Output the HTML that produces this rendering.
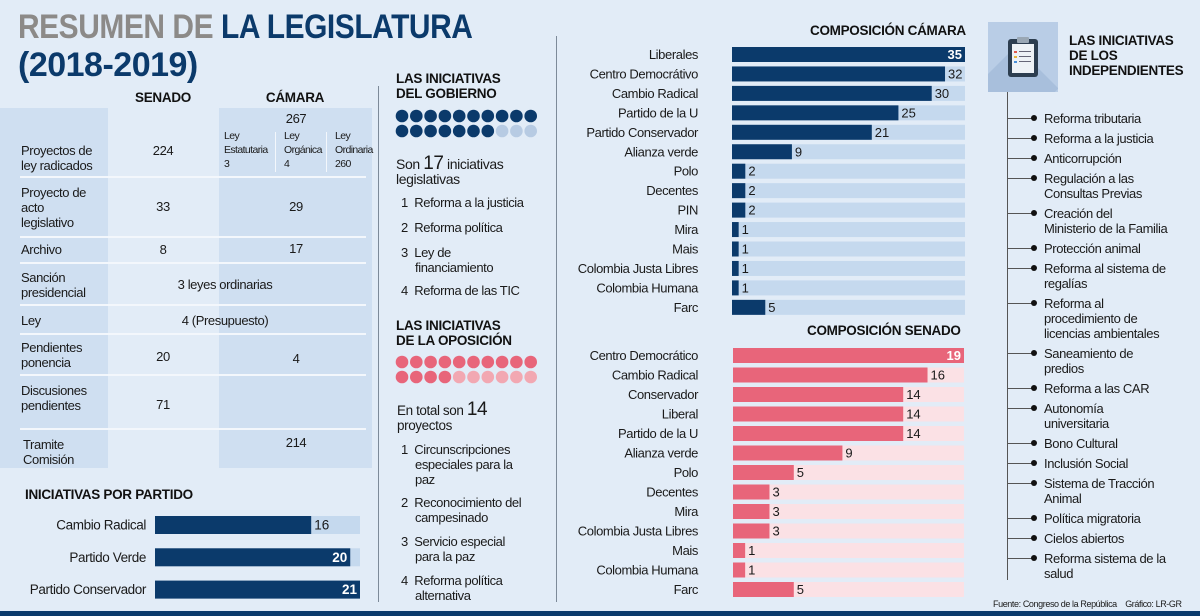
<!DOCTYPE html>
<html><head><meta charset="utf-8"><style>
*{margin:0;padding:0;box-sizing:border-box}
body{width:1200px;height:616px;overflow:hidden;background:#e2ecf7;font-family:"Liberation Sans",sans-serif;color:#1a1a1a;position:relative}
.a{position:absolute;white-space:nowrap}
.t{font-size:13px;letter-spacing:-0.4px;line-height:15px}
.b{font-weight:bold}
.h{font-weight:bold;font-size:13.5px;letter-spacing:-0.3px;line-height:15px;color:#111}
.c{transform:translateX(-50%);text-align:center}
.r{text-align:right}
.sm{font-size:10.5px;line-height:14px;letter-spacing:-0.6px}
.sep{position:absolute;height:2px;background:#f3f7fc;left:20px;width:346px}
.vl{position:absolute;width:1px;background:#7d8a99}
</style></head><body>
<div class="a b" style="left:18px;top:8px;font-size:34px;line-height:38px;letter-spacing:-0.5px"><div style="transform:scaleX(0.88);transform-origin:0 0"><span style="color:#8c8a88">RESUMEN DE</span> <span style="color:#0b3a6b">LA LEGISLATURA</span></div><span style="color:#0b3a6b">(2018-2019)</span></div>

<!-- table backgrounds -->
<div class="a" style="left:0;top:108px;width:108px;height:360px;background:#cfdff1"></div>
<div class="a" style="left:219px;top:108px;width:153px;height:360px;background:#cfdff1"></div>
<div class="a h c" style="left:163px;top:90px">SENADO</div>
<div class="a h c" style="left:295px;top:90px">CÁMARA</div>
<div class="sep" style="top:176px"></div><div class="sep" style="top:236px"></div><div class="sep" style="top:262px"></div><div class="sep" style="top:304px"></div><div class="sep" style="top:333px"></div><div class="sep" style="top:374px"></div><div class="sep" style="top:428px"></div>
<div class="a" style="left:275px;top:132px;width:1px;height:40px;background:#f3f7fc"></div>
<div class="a" style="left:326px;top:132px;width:1px;height:40px;background:#f3f7fc"></div>

<div>
<div class="a t" style="left:21px;top:143px">Proyectos de<br>ley radicados</div>
<div class="a t c" style="left:163px;top:143px">224</div>
<div class="a t c" style="left:296px;top:111px">267</div>
<div class="a sm" style="left:224px;top:129px">Ley<br>Estatutaria<br>3</div>
<div class="a sm" style="left:284px;top:129px">Ley<br>Orgánica<br>4</div>
<div class="a sm" style="left:335px;top:129px">Ley<br>Ordinaria<br>260</div>
<div class="a t" style="left:21px;top:185px">Proyecto de<br>acto<br>legislativo</div>
<div class="a t c" style="left:163px;top:199px">33</div>
<div class="a t c" style="left:296px;top:199px">29</div>
<div class="a t" style="left:21px;top:242px">Archivo</div>
<div class="a t c" style="left:163px;top:242px">8</div>
<div class="a t c" style="left:296px;top:241px">17</div>
<div class="a t" style="left:21px;top:270px">Sanción<br>presidencial</div>
<div class="a t c" style="left:225px;top:277px">3 leyes ordinarias</div>
<div class="a t" style="left:21px;top:313px">Ley</div>
<div class="a t c" style="left:225px;top:313px">4 (Presupuesto)</div>
<div class="a t" style="left:21px;top:340px">Pendientes<br>ponencia</div>
<div class="a t c" style="left:163px;top:349px">20</div>
<div class="a t c" style="left:296px;top:351px">4</div>
<div class="a t" style="left:21px;top:383px">Discusiones<br>pendientes</div>
<div class="a t c" style="left:163px;top:397px">71</div>
<div class="a t" style="left:23px;top:437px">Tramite<br>Comisión</div>
<div class="a t c" style="left:296px;top:435px">214</div>
</div>

<div class="a h" style="left:25px;top:487px">INICIATIVAS POR PARTIDO</div>
<svg id="partido" class="a" style="left:0;top:505px" width="378" height="100"></svg>

<div class="vl" style="left:378px;top:86px;height:516px"></div>
<div class="vl" style="left:556px;top:36px;height:566px"></div>

<!-- gobierno -->
<div class="a h" style="left:396px;top:71px">LAS INICIATIVAS<br>DEL GOBIERNO</div>
<svg id="dots1" class="a" style="left:390px;top:106px" width="160" height="34"></svg>
<div class="a t" style="left:396px;top:156px;font-size:14px"><span>Son </span><span style="font-size:19px">17</span> iniciativas<br>legislativas</div>
<div class="a t" style="left:401px;top:195px">1&nbsp; Reforma a la justicia</div>
<div class="a t" style="left:401px;top:220px">2&nbsp; Reforma política</div>
<div class="a t" style="left:401px;top:245px">3&nbsp; Ley de<br><span style="padding-left:14px">financiamiento</span></div>
<div class="a t" style="left:401px;top:283px">4&nbsp; Reforma de las TIC</div>

<div class="a h" style="left:396px;top:318px">LAS INICIATIVAS<br>DE LA OPOSICIÓN</div>
<svg id="dots2" class="a" style="left:390px;top:352px" width="160" height="34"></svg>
<div class="a t" style="left:397px;top:402px;font-size:13.5px">En total son <span style="font-size:19px">14</span><br>proyectos</div>
<div class="a t" style="left:401px;top:442px">1&nbsp; Circunscripciones<br><span style="padding-left:14px">especiales para la</span><br><span style="padding-left:14px">paz</span></div>
<div class="a t" style="left:401px;top:495px">2&nbsp; Reconocimiento del<br><span style="padding-left:14px">campesinado</span></div>
<div class="a t" style="left:401px;top:534px">3&nbsp; Servicio especial<br><span style="padding-left:14px">para la paz</span></div>
<div class="a t" style="left:401px;top:573px">4&nbsp; Reforma política<br><span style="padding-left:14px">alternativa</span></div>

<!-- composición -->
<div class="a h" style="left:810px;top:23px">COMPOSICIÓN CÁMARA</div>
<svg id="camara" class="a" style="left:556px;top:40px" width="430" height="280"></svg>
<div class="a h" style="left:807px;top:323px">COMPOSICIÓN SENADO</div>
<svg id="senado" class="a" style="left:556px;top:340px" width="430" height="262"></svg>

<!-- independientes -->
<div class="a" style="left:988px;top:22px;width:70px;height:70px;background:#b9cde6;overflow:hidden">
<div style="position:absolute;left:28px;top:24px;width:60px;height:60px;background:#a8bfdc;transform:rotate(45deg);transform-origin:0 0"></div>
<div style="position:absolute;left:20px;top:17px;width:30px;height:38px;background:#2d3e50;border-radius:3px"></div>
<div style="position:absolute;left:24px;top:22px;width:22px;height:29px;background:#eef2f6"></div>
<div style="position:absolute;left:29px;top:15px;width:12px;height:6px;background:#9aa7b4;border-radius:1px"></div>
<div style="position:absolute;left:26px;top:29px;width:3px;height:2px;background:#e05a4e"></div><div style="position:absolute;left:31px;top:29px;width:12px;height:1px;background:#667"></div>
<div style="position:absolute;left:26px;top:34px;width:3px;height:2px;background:#e8b53a"></div><div style="position:absolute;left:31px;top:34px;width:12px;height:1px;background:#667"></div>
<div style="position:absolute;left:26px;top:39px;width:3px;height:2px;background:#4a90d9"></div><div style="position:absolute;left:31px;top:39px;width:12px;height:1px;background:#667"></div>
</div>
<div class="a h" style="left:1069px;top:33px">LAS INICIATIVAS<br>DE LOS<br>INDEPENDIENTES</div>
<div class="vl" style="left:1007px;top:92px;height:488px;background:#555"></div>
<div id="indep"></div>

<div class="a" style="left:993px;top:599px;font-size:9px;letter-spacing:-0.4px">Fuente: Congreso de la República &nbsp;&nbsp; Gráfico: LR-GR</div>
<div class="a" style="left:0;top:611px;width:1200px;height:5px;background:#0b3a6b"></div>

<script>
var NS='http://www.w3.org/2000/svg';
var camaraCats=['Liberales','Centro Democrátivo','Cambio Radical','Partido de la U','Partido Conservador','Alianza verde','Polo','Decentes','PIN','Mira','Mais','Colombia Justa Libres','Colombia Humana','Farc'];
var camaraVals=[35,32,30,25,21,9,2,2,2,1,1,1,1,5];
var senadoCats=['Centro Democrático','Cambio Radical','Conservador','Liberal','Partido de la U','Alianza verde','Polo','Decentes','Mira','Colombia Justa Libres','Mais','Colombia Humana','Farc'];
var senadoVals=[19,16,14,14,14,9,5,3,3,3,1,1,5];
var partidoCats=['Cambio Radical','Partido Verde','Partido Conservador'];
var partidoVals=[16,20,21];
var gobiernoTotal=20, gobiernoVal=17;
var oposicionTotal=20, oposicionVal=14;
var indepItems=[['Reforma tributaria'],['Reforma a la justicia'],['Anticorrupción'],['Regulación a las','Consultas Previas'],['Creación del','Ministerio de la Familia'],['Protección animal'],['Reforma al sistema de','regalías'],['Reforma al','procedimiento de','licencias ambientales'],['Saneamiento de','predios'],['Reforma a las CAR'],['Autonomía','universitaria'],['Bono Cultural'],['Inclusión Social'],['Sistema de Tracción','Animal'],['Política migratoria'],['Cielos abiertos'],['Reforma sistema de la','salud']];

function mk(tag,attrs,parent){var e=document.createElementNS(NS,tag);for(var k in attrs)e.setAttribute(k,attrs[k]);parent.appendChild(e);return e;}

function barChart(svg,cats,vals,o){
  var max=Math.max.apply(null,vals);
  var x=function(v){return o.x0+v/max*o.w;};
  cats.forEach(function(c,i){
    var y=o.y0+i*o.step;
    var bg=mk('rect',{x:o.x0,y:y,width:o.w,height:o.h,fill:o.bg},svg);
    
    
    var r=mk('rect',{x:o.x0,y:y,width:x(vals[i])-o.x0,height:o.h,fill:o.fg},svg);
    
    
    var l=mk('text',{x:o.lx,y:y+o.h/2+4.5,'text-anchor':'end','font-size':o.fs,'letter-spacing':'-0.4','fill':'#1a1a1a'},svg);
    l.textContent=c;
    
    
    var inside=vals[i]>=max*0.94;
    var v=mk('text',{x:inside?x(vals[i])-3:x(vals[i])+3,y:y+o.h/2+4.5,'text-anchor':inside?'end':'start','font-size':o.fs,'font-weight':inside?'bold':'normal',fill:inside?'#fff':'#1a1a1a'},svg);
    v.textContent=vals[i];
    
    
  });
}
barChart(document.getElementById('camara'),camaraCats,camaraVals,{x0:176,w:233,y0:7,step:19.45,h:15,lx:142,fs:13,bg:'#c5d9ee',fg:'#0b3a6b'});
barChart(document.getElementById('senado'),senadoCats,senadoVals,{x0:177,w:231,y0:8,step:19.5,h:15,lx:142,fs:13,bg:'#fbe1e5',fg:'#e8657a'});
barChart(document.getElementById('partido'),partidoCats,partidoVals,{x0:155,w:205,y0:11,step:32.3,h:18,lx:146,fs:13.5,bg:'#c5d9ee',fg:'#0b3a6b'});

function dots(svg,total,val,on,off){
  for(var i=0;i<total;i++){
    var c=mk('circle',{cx:12+(i%10)*14.3,cy:10+Math.floor(i/10)*15,r:6.3,fill:i<val?on:off},svg);
    
    
  }
}
dots(document.getElementById('dots1'),gobiernoTotal,gobiernoVal,'#0b3a6b','#b7cbe3');
dots(document.getElementById('dots2'),oposicionTotal,oposicionVal,'#e8657a','#f2a8b2');

var ind=document.getElementById('indep');
var yy=111;
indepItems.forEach(function(lines){
  var d=document.createElement('div');
  d.className='a t';
  d.style.left='1044px';d.style.top=yy+'px';
  d.innerHTML=lines.join('<br>');
  
  
  ind.appendChild(d);
  var ln=document.createElement('div');
  ln.className='a';
  ln.style.cssText='left:1007px;top:'+(yy+7)+'px;width:25px;height:1px;background:#555';
  
  
  ind.appendChild(ln);
  var b=document.createElement('div');
  b.className='a';
  b.style.cssText='left:1031px;top:'+(yy+4)+'px;width:6px;height:6px;border-radius:50%;background:#111';
  
  
  ind.appendChild(b);
  yy+=lines.length*15+5;
});
</script>
</body></html>
